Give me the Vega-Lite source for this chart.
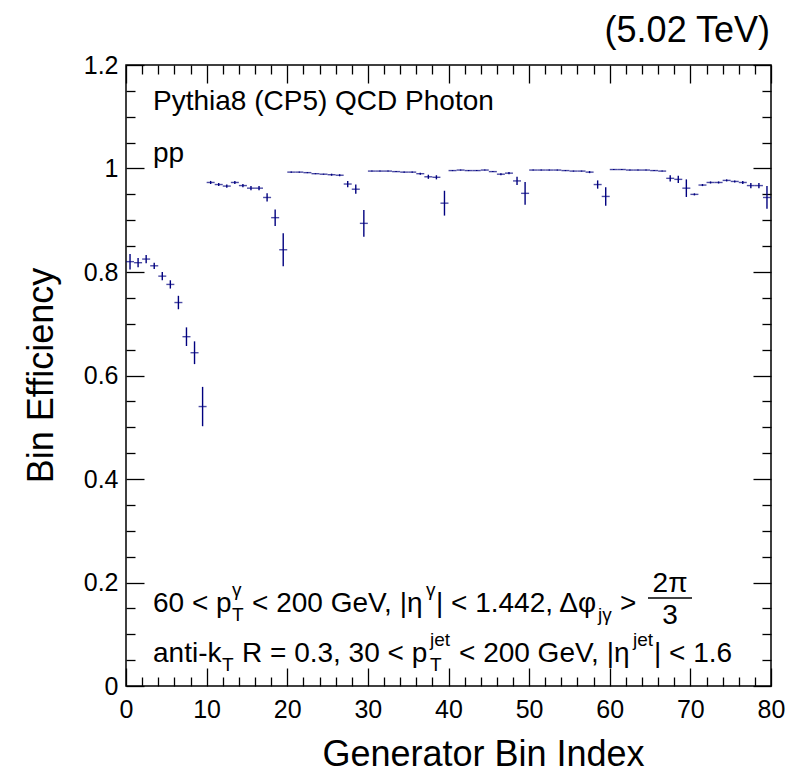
{
  "$schema": "https://vega.github.io/schema/vega-lite/v6.json",
  "width": 645,
  "height": 621,
  "autosize": {"type": "none"},
  "padding": {"left": 126, "top": 65, "right": 17, "bottom": 87},
  "background": "white",
  "config": {
    "view": {"stroke": "black", "strokeWidth": 1.5},
    "font": "Liberation Sans, Arial, Helvetica, sans-serif",
    "text": {"font": "Liberation Sans, Arial, Helvetica, sans-serif", "color": "black"}
  },
  "datasets": {
    "eff": [
      {"x": 0.5, "eff": 0.820, "err": 0.015},
      {"x": 1.5, "eff": 0.818, "err": 0.009},
      {"x": 2.5, "eff": 0.825, "err": 0.008},
      {"x": 3.5, "eff": 0.812, "err": 0.006},
      {"x": 4.5, "eff": 0.792, "err": 0.008},
      {"x": 5.5, "eff": 0.776, "err": 0.008},
      {"x": 6.5, "eff": 0.741, "err": 0.013},
      {"x": 7.5, "eff": 0.675, "err": 0.018},
      {"x": 8.5, "eff": 0.644, "err": 0.022},
      {"x": 9.5, "eff": 0.540, "err": 0.038},
      {"x": 10.5, "eff": 0.973, "err": 0.003},
      {"x": 11.5, "eff": 0.969, "err": 0.003},
      {"x": 12.5, "eff": 0.966, "err": 0.003},
      {"x": 13.5, "eff": 0.973, "err": 0.003},
      {"x": 14.5, "eff": 0.967, "err": 0.003},
      {"x": 15.5, "eff": 0.962, "err": 0.004},
      {"x": 16.5, "eff": 0.962, "err": 0.004},
      {"x": 17.5, "eff": 0.944, "err": 0.008},
      {"x": 18.5, "eff": 0.905, "err": 0.016},
      {"x": 19.5, "eff": 0.843, "err": 0.032},
      {"x": 20.5, "eff": 0.993, "err": 0.001},
      {"x": 21.5, "eff": 0.993, "err": 0.001},
      {"x": 22.5, "eff": 0.992, "err": 0.001},
      {"x": 23.5, "eff": 0.990, "err": 0.001},
      {"x": 24.5, "eff": 0.989, "err": 0.001},
      {"x": 25.5, "eff": 0.988, "err": 0.002},
      {"x": 26.5, "eff": 0.987, "err": 0.002},
      {"x": 27.5, "eff": 0.970, "err": 0.006},
      {"x": 28.5, "eff": 0.960, "err": 0.009},
      {"x": 29.5, "eff": 0.894, "err": 0.026},
      {"x": 30.5, "eff": 0.995, "err": 0.001},
      {"x": 31.5, "eff": 0.995, "err": 0.001},
      {"x": 32.5, "eff": 0.995, "err": 0.001},
      {"x": 33.5, "eff": 0.994, "err": 0.001},
      {"x": 34.5, "eff": 0.993, "err": 0.001},
      {"x": 35.5, "eff": 0.993, "err": 0.001},
      {"x": 36.5, "eff": 0.990, "err": 0.002},
      {"x": 37.5, "eff": 0.984, "err": 0.004},
      {"x": 38.5, "eff": 0.983, "err": 0.004},
      {"x": 39.5, "eff": 0.933, "err": 0.024},
      {"x": 40.5, "eff": 0.996, "err": 0.001},
      {"x": 41.5, "eff": 0.997, "err": 0.001},
      {"x": 42.5, "eff": 0.996, "err": 0.001},
      {"x": 43.5, "eff": 0.996, "err": 0.001},
      {"x": 44.5, "eff": 0.997, "err": 0.001},
      {"x": 45.5, "eff": 0.994, "err": 0.001},
      {"x": 46.5, "eff": 0.989, "err": 0.002},
      {"x": 47.5, "eff": 0.991, "err": 0.002},
      {"x": 48.5, "eff": 0.976, "err": 0.008},
      {"x": 49.5, "eff": 0.952, "err": 0.022},
      {"x": 50.5, "eff": 0.997, "err": 0.001},
      {"x": 51.5, "eff": 0.997, "err": 0.001},
      {"x": 52.5, "eff": 0.997, "err": 0.001},
      {"x": 53.5, "eff": 0.997, "err": 0.001},
      {"x": 54.5, "eff": 0.996, "err": 0.001},
      {"x": 55.5, "eff": 0.995, "err": 0.001},
      {"x": 56.5, "eff": 0.995, "err": 0.001},
      {"x": 57.5, "eff": 0.993, "err": 0.002},
      {"x": 58.5, "eff": 0.969, "err": 0.008},
      {"x": 59.5, "eff": 0.946, "err": 0.018},
      {"x": 60.5, "eff": 0.998, "err": 0.001},
      {"x": 61.5, "eff": 0.998, "err": 0.001},
      {"x": 62.5, "eff": 0.997, "err": 0.001},
      {"x": 63.5, "eff": 0.997, "err": 0.001},
      {"x": 64.5, "eff": 0.997, "err": 0.001},
      {"x": 65.5, "eff": 0.996, "err": 0.001},
      {"x": 66.5, "eff": 0.995, "err": 0.001},
      {"x": 67.5, "eff": 0.981, "err": 0.006},
      {"x": 68.5, "eff": 0.979, "err": 0.007},
      {"x": 69.5, "eff": 0.962, "err": 0.017},
      {"x": 70.5, "eff": 0.950, "err": 0.002},
      {"x": 71.5, "eff": 0.968, "err": 0.002},
      {"x": 72.5, "eff": 0.973, "err": 0.002},
      {"x": 73.5, "eff": 0.973, "err": 0.002},
      {"x": 74.5, "eff": 0.977, "err": 0.002},
      {"x": 75.5, "eff": 0.975, "err": 0.002},
      {"x": 76.5, "eff": 0.973, "err": 0.003},
      {"x": 77.5, "eff": 0.967, "err": 0.005},
      {"x": 78.5, "eff": 0.967, "err": 0.005},
      {"x": 79.5, "eff": 0.944, "err": 0.022}
    ]
  },
  "layer": [
    {
      "data": {"name": "eff"},
      "mark": {"type": "tick", "orient": "horizontal", "size": 8, "thickness": 1.4, "color": "#00007f"},
      "encoding": {
        "x": {
          "field": "x", "type": "quantitative",
          "scale": {"domain": [0, 80], "nice": false, "zero": false},
          "axis": {
            "orient": "bottom",
            "values": [0,2,4,6,8,10,12,14,16,18,20,22,24,26,28,30,32,34,36,38,40,42,44,46,48,50,52,54,56,58,60,62,64,66,68,70,72,74,76,78,80],
            "labelExpr": "datum.value % 10 === 0 ? datum.label : ''",
            "tickSize": {"condition": {"test": "datum.value % 10 === 0", "value": -18}, "value": -9},
            "tickColor": "black", "tickWidth": 1.3,
            "domain": false, "grid": false,
            "labelFontSize": 25, "labelColor": "black", "labelPadding": 29,
            "labelFlush": false, "labelOverlap": false, "labelFont": "Liberation Sans, Arial, sans-serif",
            "title": "Generator Bin Index", "titleFontSize": 36, "titleFontWeight": "normal",
            "titleColor": "black", "titleFont": "Liberation Sans, Arial, sans-serif",
            "titleX": 357, "titleY": 79, "titleAlign": "center", "titleBaseline": "alphabetic"
          }
        },
        "y": {
          "field": "eff", "type": "quantitative",
          "scale": {"domain": [0, 1.2], "nice": false, "zero": false},
          "axis": {
            "orient": "left",
            "values": [0,0.05,0.1,0.15,0.2,0.25,0.3,0.35,0.4,0.45,0.5,0.55,0.6,0.65,0.7,0.75,0.8,0.85,0.9,0.95,1,1.05,1.1,1.15,1.2],
            "format": "~g",
            "labelExpr": "abs(round(datum.value*100) % 20) === 0 ? datum.label : ''",
            "tickSize": {"condition": {"test": "abs(round(datum.value*100) % 20) === 0", "value": -18}, "value": -9},
            "tickColor": "black", "tickWidth": 1.3,
            "domain": false, "grid": false,
            "labelFontSize": 25, "labelColor": "black", "labelPadding": 26,
            "labelFlush": false, "labelOverlap": false, "labelFont": "Liberation Sans, Arial, sans-serif",
            "title": "Bin Efficiency", "titleFontSize": 36, "titleFontWeight": "normal",
            "titleColor": "black", "titleFont": "Liberation Sans, Arial, sans-serif",
            "titleAngle": 270, "titleX": -74, "titleY": 310, "titleAlign": "center", "titleBaseline": "alphabetic"
          }
        }
      }
    },
    {
      "data": {"name": "eff"},
      "mark": {"type": "errorbar", "ticks": false, "thickness": 1.4, "color": "#00007f"},
      "encoding": {
        "x": {
          "field": "x", "type": "quantitative",
          "axis": {
            "orient": "top",
            "values": [0,2,4,6,8,10,12,14,16,18,20,22,24,26,28,30,32,34,36,38,40,42,44,46,48,50,52,54,56,58,60,62,64,66,68,70,72,74,76,78,80],
            "labels": false,
            "tickSize": {"condition": {"test": "datum.value % 10 === 0", "value": -18}, "value": -9},
            "tickColor": "black", "tickWidth": 1.3,
            "domain": false, "grid": false, "title": null
          }
        },
        "y": {
          "field": "eff", "type": "quantitative",
          "axis": {
            "orient": "right",
            "values": [0,0.05,0.1,0.15,0.2,0.25,0.3,0.35,0.4,0.45,0.5,0.55,0.6,0.65,0.7,0.75,0.8,0.85,0.9,0.95,1,1.05,1.1,1.15,1.2],
            "labels": false,
            "tickSize": {"condition": {"test": "abs(round(datum.value*100) % 20) === 0", "value": -18}, "value": -9},
            "tickColor": "black", "tickWidth": 1.3,
            "domain": false, "grid": false, "title": null
          }
        },
        "yError": {"field": "err"}
      }
    },
    {
      "data": {"values": [{}]},
      "mark": {"type": "text", "align": "right", "baseline": "alphabetic", "fontSize": 36, "text": "(5.02 TeV)"},
      "encoding": {"x": {"datum": 79.88, "type": "quantitative", "axis": null}, "y": {"datum": 1.2444, "type": "quantitative", "axis": null}}
    },
    {
      "data": {"values": [{}]},
      "mark": {"type": "text", "align": "left", "baseline": "alphabetic", "fontSize": 28, "text": "Pythia8 (CP5) QCD Photon"},
      "encoding": {"x": {"datum": 3.349, "type": "quantitative", "axis": null}, "y": {"datum": 1.113, "type": "quantitative", "axis": null}}
    },
    {
      "data": {"values": [{}]},
      "mark": {"type": "text", "align": "left", "baseline": "alphabetic", "fontSize": 28, "text": "pp"},
      "encoding": {"x": {"datum": 3.349, "type": "quantitative", "axis": null}, "y": {"datum": 1.0126, "type": "quantitative", "axis": null}}
    },
    {
      "data": {"values": [{}]},
      "mark": {"type": "text", "align": "left", "baseline": "alphabetic", "fontSize": 28, "text": "60 < p"},
      "encoding": {"x": {"datum": 3.349, "type": "quantitative", "axis": null}, "y": {"datum": 0.143, "type": "quantitative", "axis": null}}
    },
    {
      "data": {"values": [{}]},
      "mark": {"type": "text", "align": "left", "baseline": "alphabetic", "fontSize": 19, "text": "T"},
      "encoding": {"x": {"datum": 13.147, "type": "quantitative", "axis": null}, "y": {"datum": 0.1256, "type": "quantitative", "axis": null}}
    },
    {
      "data": {"values": [{}]},
      "mark": {"type": "text", "align": "left", "baseline": "alphabetic", "fontSize": 19, "text": "γ"},
      "encoding": {"x": {"datum": 13.147, "type": "quantitative", "axis": null}, "y": {"datum": 0.1739, "type": "quantitative", "axis": null}}
    },
    {
      "data": {"values": [{}]},
      "mark": {"type": "text", "align": "left", "baseline": "alphabetic", "fontSize": 28, "text": "< 200 GeV, |η"},
      "encoding": {"x": {"datum": 15.628, "type": "quantitative", "axis": null}, "y": {"datum": 0.143, "type": "quantitative", "axis": null}}
    },
    {
      "data": {"values": [{}]},
      "mark": {"type": "text", "align": "left", "baseline": "alphabetic", "fontSize": 19, "text": "γ"},
      "encoding": {"x": {"datum": 37.209, "type": "quantitative", "axis": null}, "y": {"datum": 0.1739, "type": "quantitative", "axis": null}}
    },
    {
      "data": {"values": [{}]},
      "mark": {"type": "text", "align": "left", "baseline": "alphabetic", "fontSize": 28, "text": "| < 1.442, Δφ"},
      "encoding": {"x": {"datum": 38.45, "type": "quantitative", "axis": null}, "y": {"datum": 0.143, "type": "quantitative", "axis": null}}
    },
    {
      "data": {"values": [{}]},
      "mark": {"type": "text", "align": "left", "baseline": "alphabetic", "fontSize": 19, "text": "jγ"},
      "encoding": {"x": {"datum": 58.543, "type": "quantitative", "axis": null}, "y": {"datum": 0.1256, "type": "quantitative", "axis": null}}
    },
    {
      "data": {"values": [{}]},
      "mark": {"type": "text", "align": "left", "baseline": "alphabetic", "fontSize": 28, "text": ">"},
      "encoding": {"x": {"datum": 61.271, "type": "quantitative", "axis": null}, "y": {"datum": 0.143, "type": "quantitative", "axis": null}}
    },
    {
      "data": {"values": [{}]},
      "mark": {"type": "text", "align": "center", "baseline": "alphabetic", "fontSize": 28, "text": "2π"},
      "encoding": {"x": {"datum": 67.473, "type": "quantitative", "axis": null}, "y": {"datum": 0.1816, "type": "quantitative", "axis": null}}
    },
    {
      "data": {"values": [{}]},
      "mark": {"type": "rule", "color": "black", "strokeWidth": 1.5},
      "encoding": {"x": {"datum": 64.744, "type": "quantitative", "axis": null}, "x2": {"datum": 70.202}, "y": {"datum": 0.17, "type": "quantitative", "axis": null}}
    },
    {
      "data": {"values": [{}]},
      "mark": {"type": "text", "align": "center", "baseline": "alphabetic", "fontSize": 28, "text": "3"},
      "encoding": {"x": {"datum": 67.473, "type": "quantitative", "axis": null}, "y": {"datum": 0.1198, "type": "quantitative", "axis": null}}
    },
    {
      "data": {"values": [{}]},
      "mark": {"type": "text", "align": "left", "baseline": "alphabetic", "fontSize": 28, "text": "anti-k"},
      "encoding": {"x": {"datum": 3.349, "type": "quantitative", "axis": null}, "y": {"datum": 0.0464, "type": "quantitative", "axis": null}}
    },
    {
      "data": {"values": [{}]},
      "mark": {"type": "text", "align": "left", "baseline": "alphabetic", "fontSize": 19, "text": "T"},
      "encoding": {"x": {"datum": 11.907, "type": "quantitative", "axis": null}, "y": {"datum": 0.029, "type": "quantitative", "axis": null}}
    },
    {
      "data": {"values": [{}]},
      "mark": {"type": "text", "align": "left", "baseline": "alphabetic", "fontSize": 28, "text": "R = 0.3, 30 < p"},
      "encoding": {"x": {"datum": 14.388, "type": "quantitative", "axis": null}, "y": {"datum": 0.0464, "type": "quantitative", "axis": null}}
    },
    {
      "data": {"values": [{}]},
      "mark": {"type": "text", "align": "left", "baseline": "alphabetic", "fontSize": 19, "text": "T"},
      "encoding": {"x": {"datum": 37.705, "type": "quantitative", "axis": null}, "y": {"datum": 0.029, "type": "quantitative", "axis": null}}
    },
    {
      "data": {"values": [{}]},
      "mark": {"type": "text", "align": "left", "baseline": "alphabetic", "fontSize": 19, "text": "jet"},
      "encoding": {"x": {"datum": 37.705, "type": "quantitative", "axis": null}, "y": {"datum": 0.0773, "type": "quantitative", "axis": null}}
    },
    {
      "data": {"values": [{}]},
      "mark": {"type": "text", "align": "left", "baseline": "alphabetic", "fontSize": 28, "text": "< 200 GeV, |η"},
      "encoding": {"x": {"datum": 41.302, "type": "quantitative", "axis": null}, "y": {"datum": 0.0464, "type": "quantitative", "axis": null}}
    },
    {
      "data": {"values": [{}]},
      "mark": {"type": "text", "align": "left", "baseline": "alphabetic", "fontSize": 19, "text": "jet"},
      "encoding": {"x": {"datum": 62.884, "type": "quantitative", "axis": null}, "y": {"datum": 0.0773, "type": "quantitative", "axis": null}}
    },
    {
      "data": {"values": [{}]},
      "mark": {"type": "text", "align": "left", "baseline": "alphabetic", "fontSize": 28, "text": "| < 1.6"},
      "encoding": {"x": {"datum": 65.488, "type": "quantitative", "axis": null}, "y": {"datum": 0.0464, "type": "quantitative", "axis": null}}
    }
  ]
}
